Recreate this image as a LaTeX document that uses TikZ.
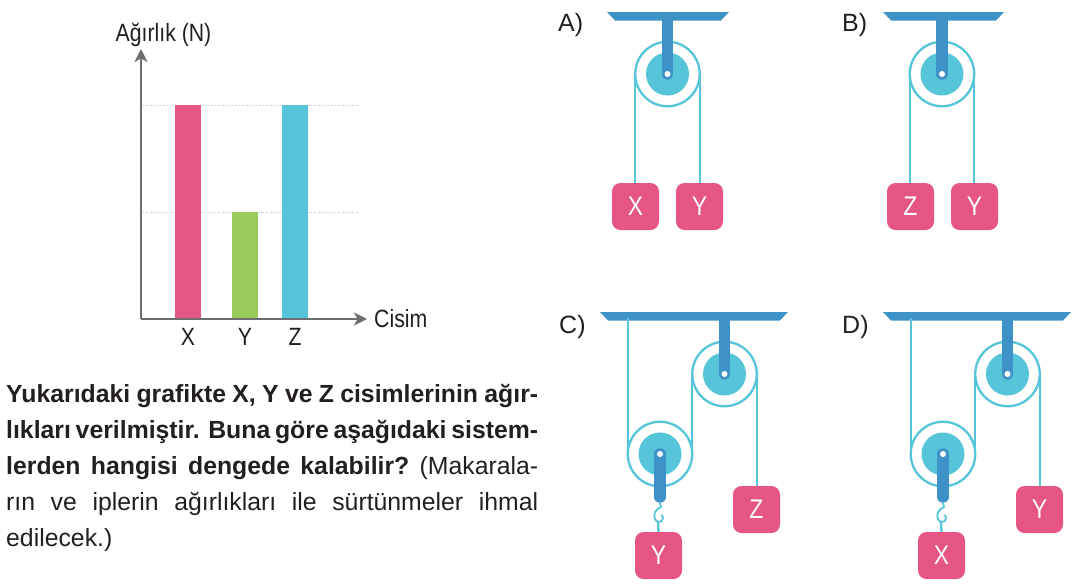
\documentclass[tikz,border=0pt]{standalone}
\usepackage{fontspec}
\usetikzlibrary{arrows.meta}
\setmainfont{Liberation Sans}
\newfontfamily\narrowfont[FakeStretch=0.85]{Liberation Sans}
\newfontfamily\blockfont[FakeStretch=0.85]{Liberation Sans}
\definecolor{ink}{HTML}{231F20}
\definecolor{axisgrey}{HTML}{6D6E71}
\definecolor{barpink}{HTML}{E55683}
\definecolor{bargreen}{HTML}{9BCB5B}
\definecolor{barcyan}{HTML}{56C5DA}
\definecolor{steel}{HTML}{3F92C8}
\tikzset{
  axisline/.style={draw=axisgrey,line width=2pt,-{Stealth[length=13pt,width=13pt,inset=3.5pt]}},
  guide/.style={draw=axisgrey!40,line width=.4pt,dotted},
  lbl/.style={font=\narrowfont\fontsize{25}{25}\selectfont,text=ink,inner sep=0},
  optlbl/.style={font=\fontsize{25}{25}\selectfont,text=ink,inner sep=0,anchor=base west},
  rope/.style={draw=barcyan,line width=2.3pt},
  hookline/.style={draw=barcyan,line width=1.8pt,line cap=round,line join=round},
  ring/.style={circle,draw=barcyan,line width=2.3pt,fill=white,minimum size=64.5pt,inner sep=0,outer sep=0},
  hub/.style={circle,fill=barcyan,minimum size=43pt,inner sep=0},
  arm/.style={draw=steel,line width=11.5pt,line cap=round},
  stem/.style={draw=steel,line width=11.5pt},
  eye/.style={circle,fill=white,minimum size=6pt,inner sep=0},
  ceiling/.style={fill=steel,draw=none},
  block/.style={rectangle,rounded corners=8.5pt,fill=barpink,minimum size=47pt,inner sep=0,text=white,font=\blockfont\fontsize{27}{27}\selectfont},
  para/.style={anchor=base west,inner sep=0,font=\fontsize{24.8}{24.8}\selectfont,text=ink},
}
\begin{document}
\begin{tikzpicture}[x=1pt,y=-1pt]
\useasboundingbox (0,0) rectangle (1072,587);
% chart
\draw[guide] (141,105) -- (358,105);
\draw[guide] (141,212) -- (358,212);
\fill[barpink] (175,105) rectangle (201,319);
\fill[bargreen] (232,212) rectangle (258,319);
\fill[barcyan] (282,105) rectangle (308,319);
\coordinate (origin) at (141,319);
\coordinate (ytip) at (141,49);
\coordinate (xtip) at (367,319);
\draw[axisline] (origin) -- (ytip);
\draw[axisline] (origin) -- (xtip);
\node[lbl,anchor=base] (ylabel) at (163.5,41) {Ağırlık (N)};
\node[lbl,anchor=base west] (xlabel) at (374,327) {Cisim};
\node[lbl,anchor=base] (lx) at (188,345) {X};
\node[lbl,anchor=base] (ly) at (245,345) {Y};
\node[lbl,anchor=base] (lz) at (295,345) {Z};
% option letters
\node[optlbl] (optA) at (558,31) {A)};
\node[optlbl] (optB) at (842,31) {B)};
\node[optlbl] (optC) at (559,333) {C)};
\node[optlbl] (optD) at (842,333) {D)};
% ceilings
\fill[ceiling] (607,12) -- (729,12) -- (721,20.5) -- (615,20.5) -- cycle;
\fill[ceiling] (883,12) -- (1004,12) -- (996,20.5) -- (891,20.5) -- cycle;
\fill[ceiling] (600,312) -- (788,312) -- (780,320.5) -- (608,320.5) -- cycle;
\fill[ceiling] (883,312) -- (1071,312) -- (1063,320.5) -- (891,320.5) -- cycle;
% A
\node[ring] (pA) at (667.5,74) {};
\node[hub] (hA) at (pA) {};
\node[block] (bAX) at (635.5,206.5) {X};
\node[block] (bAY) at (699.5,206.5) {Y};
\draw[rope] (pA.west) -- (pA.west |- bAX.north);
\draw[rope] (pA.east) -- (pA.east |- bAY.north);
\draw[stem] (667.5,14) -- (pA.center);
\draw[arm] (667.5,40) -- (pA.center);
\node[eye] (eA) at (pA) {};
% B
\node[ring] (pB) at (942,74) {};
\node[hub] (hB) at (pB) {};
\node[block] (bBZ) at (910.5,206.5) {Z};
\node[block] (bBY) at (974.5,206.5) {Y};
\draw[rope] (pB.west) -- (pB.west |- bBZ.north);
\draw[rope] (pB.east) -- (pB.east |- bBY.north);
\draw[stem] (942,14) -- (pB.center);
\draw[arm] (942,40) -- (pB.center);
\node[eye] (eB) at (pB) {};
% C
\node[ring] (fC) at (724.5,374) {};
\node[hub] (hfC) at (fC) {};
\node[ring] (mC) at (660,454) {};
\node[hub] (hmC) at (mC) {};
\node[block] (bCZ) at (756.5,509.5) {Z};
\node[block] (bCY) at (658.5,555.5) {Y};
\coordinate (aC) at (628,318);
\draw[rope] (mC.west |- aC) -- (mC.west);
\draw[rope] (mC.east) -- (fC.west);
\draw[rope] (fC.east) -- (fC.east |- bCZ.north);
\draw[stem] (724.5,314) -- (fC.center);
\draw[arm] (724.5,340) -- (fC.center);
\node[eye] (efC) at (fC) {};
\draw[arm] (mC.center) -- (660,497);
\node[eye] (emC) at (mC) {};
\draw[hookline] (660,503) -- (661,507) .. controls (655,510) and (653,514) .. (655,519) .. controls (656,523) and (663,523) .. (663,518) -- (662,515);
\draw[rope] (658,522) -- (bCY.north);
% D
\node[ring] (fD) at (1007.5,374) {};
\node[hub] (hfD) at (fD) {};
\node[ring] (mD) at (943,454) {};
\node[hub] (hmD) at (mD) {};
\node[block] (bDY) at (1039.5,509.5) {Y};
\node[block] (bDX) at (941.5,555.5) {X};
\coordinate (aD) at (911,318);
\draw[rope] (mD.west |- aD) -- (mD.west);
\draw[rope] (mD.east) -- (fD.west);
\draw[rope] (fD.east) -- (fD.east |- bDY.north);
\draw[stem] (1007.5,314) -- (fD.center);
\draw[arm] (1007.5,340) -- (fD.center);
\node[eye] (efD) at (fD) {};
\draw[arm] (mD.center) -- (943,497);
\node[eye] (emD) at (mD) {};
\draw[hookline] (943,503) -- (944,507) .. controls (938,510) and (936,514) .. (938,519) .. controls (939,523) and (946,523) .. (946,518) -- (945,515);
\draw[rope] (941,522) -- (bDX.north);
% paragraph
\node[para] (t1) at (6,402) {\hbox to 532pt{\bfseries Yukarıdaki grafikte X, Y ve Z cisimlerinin ağır-}};
\node[para] (t2) at (6,438) {\hbox to 532pt{\bfseries lıkları verilmiştir. Buna göre aşağıdaki sistem-}};
\node[para] (t3) at (6,474) {\hbox to 532pt{\bfseries lerden hangisi dengede kalabilir?\mdseries\ (Makarala-}};
\node[para] (t4) at (6,510) {\hbox to 532pt{rın ve iplerin ağırlıkları ile sürtünmeler ihmal}};
\node[para] (t5) at (6,546) {edilecek.)};
\end{tikzpicture}
\end{document}
